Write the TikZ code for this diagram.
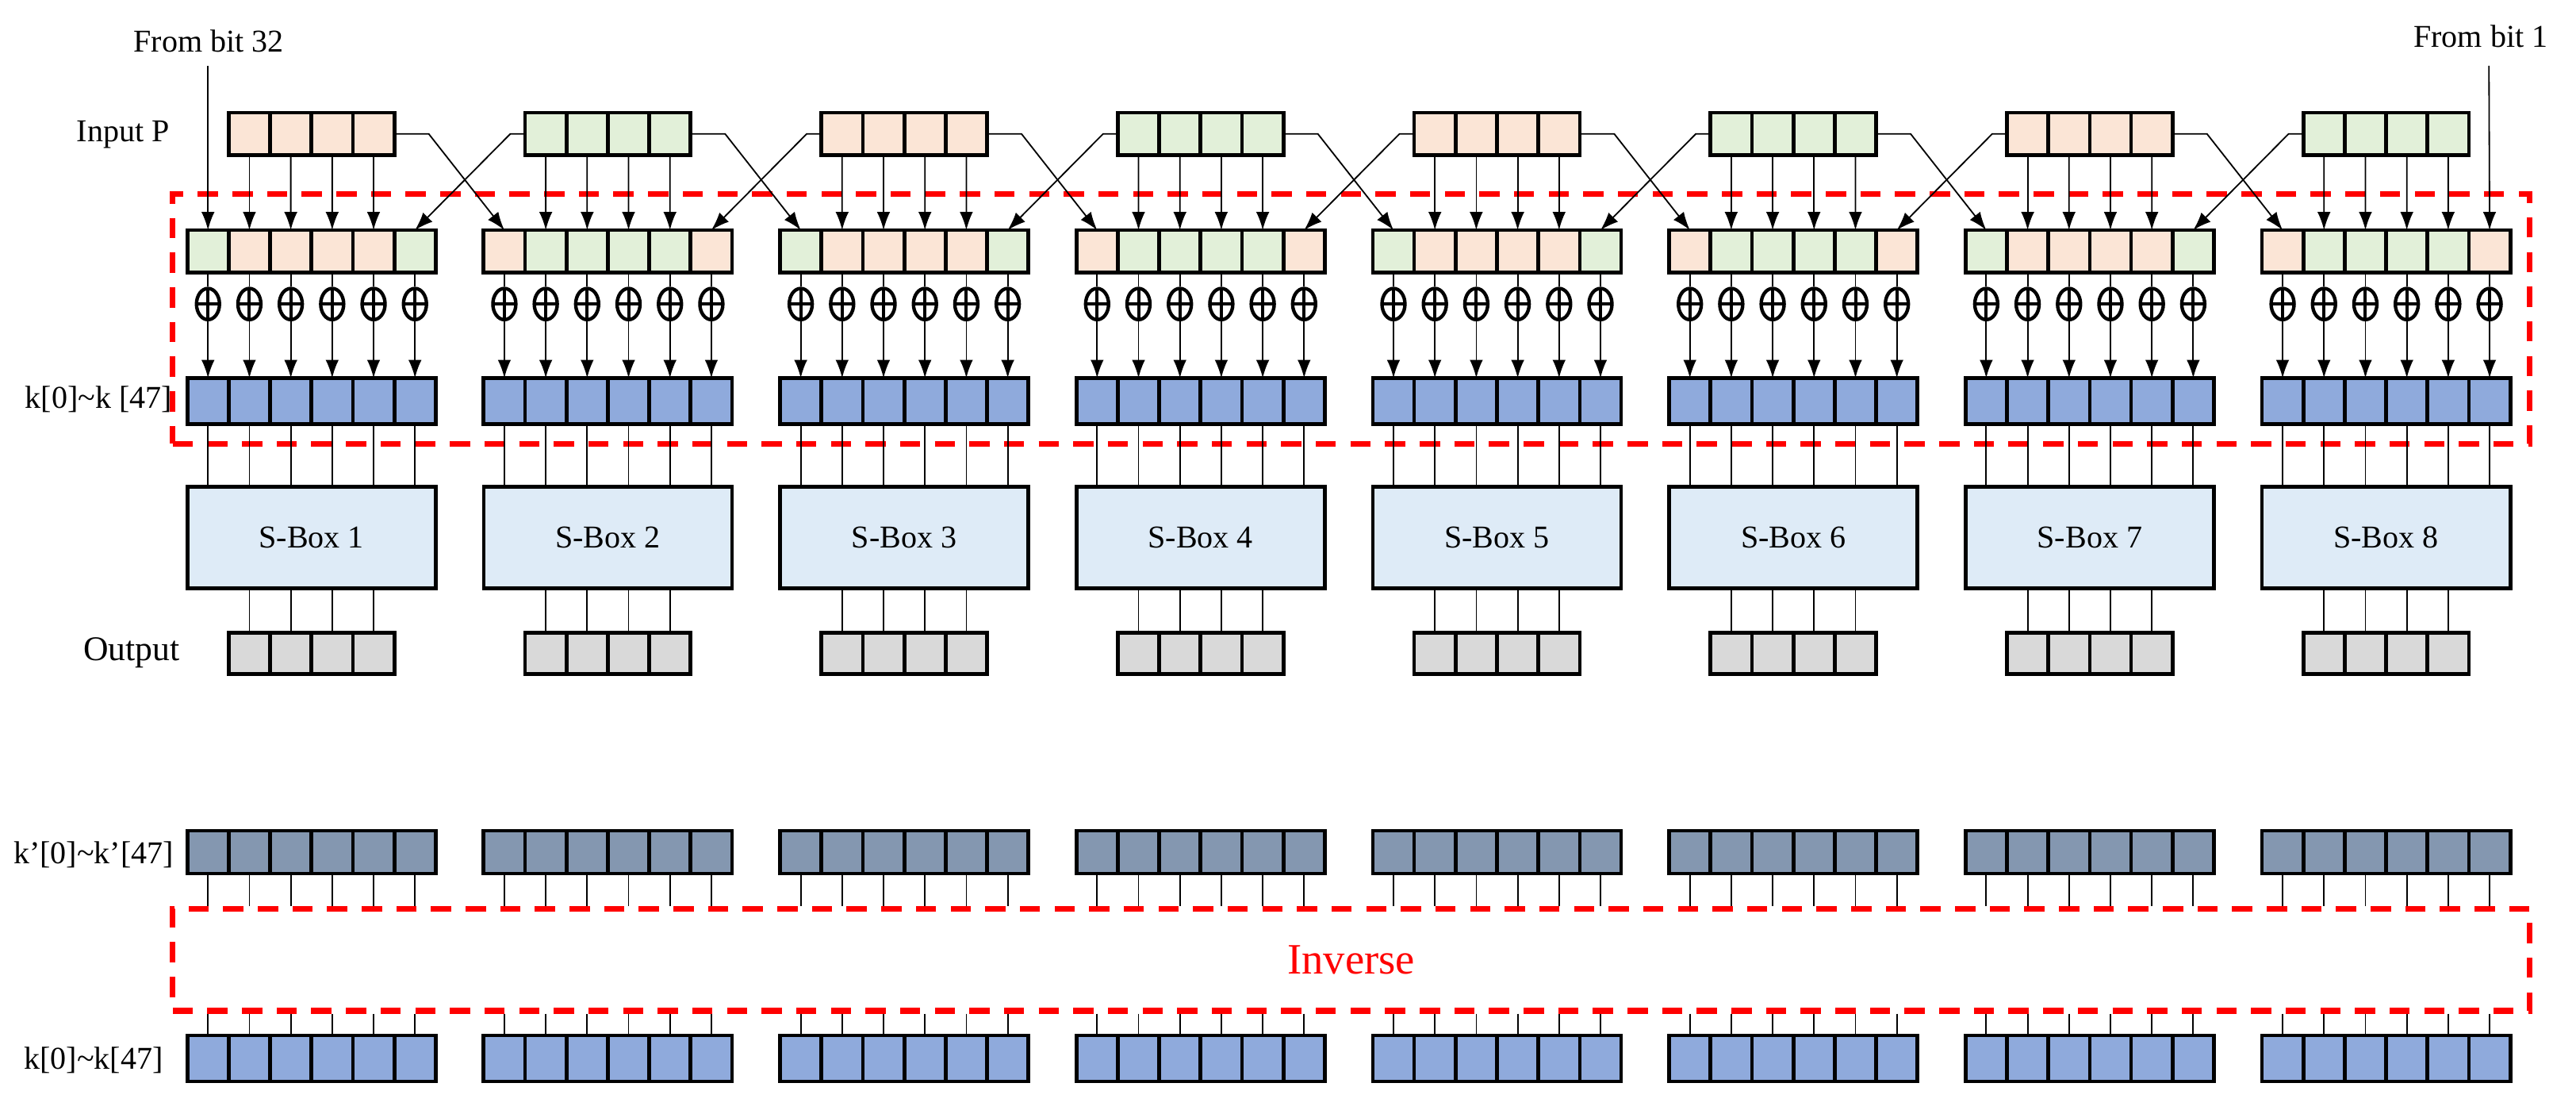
\documentclass[tikz,border=0pt]{standalone}
\usepackage{fontspec}
\setmainfont{Liberation Serif}
\usetikzlibrary{arrows.meta,shapes.geometric}
\definecolor{peach}{HTML}{FBE5D6}
\definecolor{lgreen}{HTML}{E2F0D9}
\definecolor{kblue}{HTML}{8FAADC}
\definecolor{sbox}{HTML}{DEEBF7}
\definecolor{ogray}{HTML}{D9D9D9}
\definecolor{kslate}{HTML}{8497B0}
\tikzset{
  cell/.style={draw,line width=1.3pt,minimum width=0.504cm,minimum height=0.52cm,inner sep=0pt,outer sep=0pt},
  sb/.style={draw,line width=1.3pt,fill=sbox,minimum width=3.024cm,minimum height=1.24cm,inner sep=0pt,font=\fontsize{11}{13}\selectfont},
  xr/.style={draw,ellipse,line width=1.2pt,minimum width=0.28cm,minimum height=0.38cm,inner sep=0pt,
    path picture={\draw[line width=1.1pt] (path picture bounding box.north)--(path picture bounding box.south)
      (path picture bounding box.west)--(path picture bounding box.east);}},
  arr/.style={-{Latex[length=2.2mm,width=1.6mm]},line width=0.5pt},
  thin/.style={line width=0.5pt},
  redbox/.style={draw=red,line width=2pt,dash pattern=on 7pt off 5pt,minimum width=28.7cm,inner sep=0pt},
  lbl/.style={font=\fontsize{11}{13}\selectfont,inner sep=0pt}
}
\begin{document}
\begin{tikzpicture}[x=0.02cm,y=-0.02cm]
\useasboundingbox (0,0) rectangle (1568,675);
% red boxes
\node[redbox,minimum height=3.04cm] (rb1) at (822.5,194) {};
\node[redbox,minimum height=1.24cm,text=red,font=\fontsize{15}{17}\selectfont] (rb2) at (822.5,584) {Inverse};
\foreach \g in {1,...,8}{
  \pgfmathsetmacro{\X}{114+(\g-1)*180.4}
  \pgfmathtruncatemacro{\odd}{mod(\g,2)}
  \ifnum\odd=1 \def\cin{peach}\def\cout{lgreen}\else \def\cin{lgreen}\def\cout{peach}\fi
  % input P
  \foreach \j in {1,...,4}{
    \node[cell,fill=\cin] (in-\g-\j) at ({\X+25.2*\j+12.6},81.5) {};
    \node[cell,fill=ogray,minimum height=0.5cm] (o-\g-\j) at ({\X+25.2*\j+12.6},397.5) {};
  }
  \foreach \j in {1,...,6}{
    \ifnum\j=1 \def\cc{\cout}\else\ifnum\j=6 \def\cc{\cout}\else\def\cc{\cin}\fi\fi
    \node[cell,fill=\cc] (x-\g-\j) at ({\X+25.2*\j-12.6},153) {};
    \node[xr] (xor-\g-\j) at ({\X+25.2*\j-12.6},185) {};
    \node[cell,fill=kblue,minimum height=0.56cm] (k-\g-\j) at ({\X+25.2*\j-12.6},244) {};
    \node[cell,fill=kslate] (kp-\g-\j) at ({\X+25.2*\j-12.6},518.5) {};
    \node[cell,fill=kblue,minimum height=0.56cm] (kb-\g-\j) at ({\X+25.2*\j-12.6},644) {};
    \draw[thin] (x-\g-\j.south) -- (xor-\g-\j.north);
    \draw[arr] (xor-\g-\j.south) -- (k-\g-\j.north);
    \draw[thin] (kp-\g-\j.south) -- (kp-\g-\j.south |- rb2.north);
    \draw[thin] (kb-\g-\j.north |- rb2.south) -- (kb-\g-\j.north);
  }
  \node[sb] (sb-\g) at ({\X+75.6},327) {S-Box \g};
  \foreach \j in {1,...,6}{
    \draw[thin] (k-\g-\j.south) -- (k-\g-\j.south |- sb-\g.north);
  }
  \foreach \j [evaluate=\j as \jj using int(\j+1)] in {1,...,4}{
    \draw[arr] (in-\g-\j.south) -- (x-\g-\jj.north);
    \draw[thin] (o-\g-\j.north |- sb-\g.south) -- (o-\g-\j.north);
  }
}
\foreach \g [evaluate=\g as \n using int(\g+1)] in {1,...,7}{
  \draw[arr] (in-\g-4.east) -- ++(21,0) -- (x-\n-1.north);
  \draw[arr] (in-\n-1.west) -- ++(-9,0) -- (x-\g-6.north);
}
\coordinate (fb32) at (126.6,40);
\coordinate (fb1) at (1515,40);
\draw[arr] (fb32) -- (x-1-1.north);
\draw[arr] (fb1) -- (x-8-6.north);
\node[lbl] (t32) at (127,25) {From bit 32};
\node[lbl] (t1) at (1510,22) {From bit 1};
\node[lbl] (tin) at (75,82) {Input P};
\node[lbl] (tk) at (60,243) {k[0]\textasciitilde k [47]};
\node[lbl,font=\fontsize{12}{14}\selectfont] (tout) at (80,397) {Output};
\node[lbl] (tkp) at (57,520) {k’[0]\textasciitilde k’[47]};
\node[lbl] (tkb) at (57,645) {k[0]\textasciitilde k[47]};
\end{tikzpicture}
\end{document}
